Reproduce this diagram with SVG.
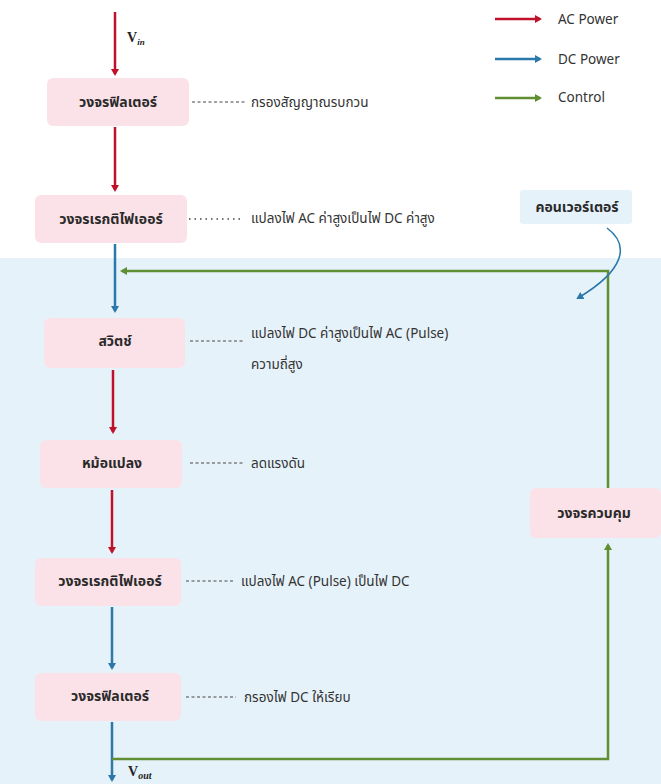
<svg xmlns="http://www.w3.org/2000/svg" width="661" height="784" viewBox="0 0 661 784">
<defs>
<style>
.box{fill:#fbe2e8;}
.bt{font-family:"Noto Sans Thai","Noto Sans","DejaVu Sans",sans-serif;font-size:14px;font-weight:bold;fill:#2a2a2a;text-anchor:middle;}
.lb{font-family:"Noto Sans Thai","Noto Sans","DejaVu Sans",sans-serif;font-size:13.5px;fill:#333;}
.lg{font-family:"Noto Sans","Liberation Sans",sans-serif;font-size:13.5px;fill:#333;}
.dash{stroke:#444;stroke-width:1;stroke-dasharray:3 2.5;fill:none;}
.dot{stroke:#444;stroke-width:1.3;stroke-dasharray:1.5 4;fill:none;}
.ac{stroke:#c0112b;stroke-width:2.5;fill:none;}
.dc{stroke:#2b78ab;stroke-width:2.5;fill:none;}
.ct{stroke:#5f8f32;stroke-width:2.5;fill:none;}
.v{font-family:"Liberation Serif",serif;font-weight:bold;font-size:14px;fill:#222;}
</style>
<marker id="mr" markerWidth="8" markerHeight="8" refX="5" refY="4" orient="auto" markerUnits="userSpaceOnUse"><path d="M0,0 L7,4 L0,8 Z" fill="#c0112b"/></marker>
<marker id="mb" markerWidth="8" markerHeight="8" refX="5" refY="4" orient="auto" markerUnits="userSpaceOnUse"><path d="M0,0 L7,4 L0,8 Z" fill="#2b78ab"/></marker>
<marker id="mg" markerWidth="8" markerHeight="8" refX="5" refY="4" orient="auto" markerUnits="userSpaceOnUse"><path d="M0,0 L7,4 L0,8 Z" fill="#5f8f32"/></marker>
</defs>
<rect x="0" y="0" width="661" height="784" fill="#ffffff"/>
<rect x="0" y="258" width="661" height="526" fill="#e6f2fa"/>

<g id="legend">
<line x1="495" y1="19" x2="540" y2="19" class="ac" marker-end="url(#mr)"/>
<text x="558" y="24" class="lg">AC Power</text>
<line x1="495" y1="59" x2="540" y2="59" class="dc" marker-end="url(#mb)"/>
<text x="558" y="64" class="lg">DC Power</text>
<line x1="495" y1="98" x2="540" y2="98" class="ct" marker-end="url(#mg)"/>
<text x="558" y="102" class="lg">Control</text>
</g>

<g id="connectors">
<line x1="115" y1="12" x2="115" y2="74" class="ac" marker-end="url(#mr)"/>
<line x1="115" y1="127" x2="115" y2="190" class="ac" marker-end="url(#mr)"/>
<line x1="115" y1="244" x2="115" y2="311" class="dc" marker-end="url(#mb)"/>
<line x1="113" y1="370" x2="113" y2="432" class="ac" marker-end="url(#mr)"/>
<line x1="112" y1="490" x2="112" y2="552" class="ac" marker-end="url(#mr)"/>
<line x1="112" y1="607" x2="112" y2="668" class="dc" marker-end="url(#mb)"/>
<line x1="112" y1="722" x2="112" y2="780" class="dc" marker-end="url(#mb)"/>
<polyline points="608,488 608,271 122,271" class="ct" marker-end="url(#mg)"/>
<polyline points="112,759 608,759 608,545" class="ct" marker-end="url(#mg)"/>
<path d="M607,228 C630,245 625,270 578,298" stroke="#2b78ab" stroke-width="1.5" fill="none" marker-end="url(#mb)"/>
<line x1="192" y1="102" x2="245" y2="102" class="dash"/>
<line x1="189" y1="219" x2="244" y2="219" class="dot"/>
<line x1="190" y1="341" x2="243" y2="341" class="dash"/>
<line x1="190" y1="463" x2="243" y2="463" class="dash"/>
<line x1="186" y1="581" x2="235" y2="581" class="dash"/>
<line x1="186" y1="697" x2="236" y2="697" class="dash"/>
</g>

<g id="vin"><text x="127" y="42" class="v">V<tspan font-size="9" font-style="italic" dy="3">in</tspan></text></g>
<g id="vout"><text x="128" y="776" class="v">V<tspan font-size="10" font-style="italic" dy="3">out</tspan></text></g>

<g id="filter1">
<rect x="47" y="78" width="142" height="48" rx="6" class="box"/>
<text x="118" y="107" class="bt">วงจรฟิลเตอร์</text>
<text x="251" y="107" class="lb">กรองสัญญาณรบกวน</text>
</g>

<g id="rectifier1">
<rect x="35" y="195" width="152" height="48" rx="6" class="box"/>
<text x="111" y="224" class="bt">วงจรเรกติไฟเออร์</text>
<text x="251" y="223" class="lb">แปลงไฟ AC ค่าสูงเป็นไฟ DC ค่าสูง</text>
</g>

<g id="converter">
<rect x="520" y="190" width="112" height="34" rx="3" fill="#e6f2fa"/>
<text x="577" y="212" class="bt">คอนเวอร์เตอร์</text>
</g>

<g id="switch">
<rect x="44" y="318" width="141" height="50" rx="6" class="box"/>
<text x="115" y="346" class="bt">สวิตช์</text>
<text x="251" y="338" class="lb">แปลงไฟ DC ค่าสูงเป็นไฟ AC (Pulse)</text>
<text x="251" y="369" class="lb">ความถี่สูง</text>
</g>

<g id="transformer">
<rect x="40" y="440" width="142" height="48" rx="6" class="box"/>
<text x="112" y="468" class="bt">หม้อแปลง</text>
<text x="251" y="468" class="lb">ลดแรงดัน</text>
</g>

<g id="rectifier2">
<rect x="35" y="558" width="146" height="48" rx="6" class="box"/>
<text x="110" y="586" class="bt">วงจรเรกติไฟเออร์</text>
<text x="241" y="586" class="lb">แปลงไฟ AC (Pulse) เป็นไฟ DC</text>
</g>

<g id="filter2">
<rect x="35" y="673" width="146" height="48" rx="6" class="box"/>
<text x="110" y="701" class="bt">วงจรฟิลเตอร์</text>
<text x="244" y="702" class="lb">กรองไฟ DC ให้เรียบ</text>
</g>

<g id="control">
<rect x="530" y="488" width="131" height="50" rx="6" class="box"/>
<text x="594" y="518" class="bt">วงจรควบคุม</text>
</g>
</svg>
